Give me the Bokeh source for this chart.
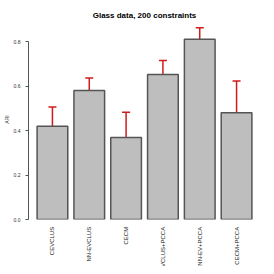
import math
from bokeh.plotting import figure
from bokeh.models import ColumnDataSource, Whisker, TeeHead, FixedTicker, Range1d
from bokeh.core.properties import value
from bokeh.embed import file_html
from bokeh.resources import INLINE

title = "Glass data, 200 constraints"
categories = ["CEVCLUS", "NN-EVCLUS", "CECM", "CEVCLUS+PCCA", "NN-EV+PCCA", "CECM+PCCA"]
ari_mean = [0.42, 0.58, 0.369, 0.652, 0.811, 0.48]
err_lower = [0.335, 0.525, 0.254, 0.587, 0.758, 0.338]
err_upper = [0.506, 0.637, 0.483, 0.715, 0.863, 0.623]
y_ticks = [0.0, 0.2, 0.4, 0.6, 0.8]

centers = [0.7 + 1.2 * i for i in range(len(categories))]
src = ColumnDataSource(dict(x=centers, top=ari_mean, lo=err_lower, hi=err_upper,
                            name=categories, ly=[-0.033] * len(categories)))

p = figure(width=266, height=266, output_backend="svg", toolbar_location=None,
           x_range=Range1d(-0.08, 7.48), y_range=Range1d(0, 0.9),
           x_axis_location=None,
           min_border_left=0, min_border_right=6, min_border_top=19, min_border_bottom=47)
p.title.text = title
p.title.align = "center"
p.title.text_font = "Liberation Sans"
p.title.text_font_size = "8px"
p.title.text_font_style = "bold"
p.title.text_color = "#000000"
p.title.standoff = 0
p.outline_line_color = None
p.grid.visible = False
p.background_fill_color = "white"
p.border_fill_color = "white"

p.vbar(x="x", top="top", width=1.0, bottom=0, source=src,
       fill_color="#bebebe", line_color="#555555", line_width=1.5)

wh = Whisker(base="x", lower="lo", upper="hi", source=src,
             line_color="#d11a1a", line_width=1.5,
             upper_head=TeeHead(size=8, line_color="#d11a1a", line_width=1.5),
             lower_head=TeeHead(size=8, line_color="#d11a1a", line_width=1.5))
p.add_layout(wh)

p.text(x="x", y="ly", text="name", source=src, angle=math.pi / 2,
       text_align="right", text_baseline="middle",
       text_font=value("Liberation Sans"), text_font_size="6px",
       text_color="#222222", level="overlay")

ya = p.yaxis[0]
ya.ticker = FixedTicker(ticks=y_ticks)
ya.bounds = (0, 0.8)
ya.minor_tick_line_color = None
ya.major_tick_in = 0
ya.major_tick_out = 3
ya.major_label_standoff = 5
ya.major_label_text_font = "Liberation Sans"
ya.major_label_text_font_size = "5px"
ya.major_label_text_color = "#333333"
ya.axis_line_color = "#555555"
ya.major_tick_line_color = "#555555"
ya.axis_label = "ARI"
ya.axis_label_text_font = "Liberation Sans"
ya.axis_label_text_font_size = "5px"
ya.axis_label_text_font_style = "normal"
ya.axis_label_text_color = "#333333"
ya.axis_label_standoff = 1
ya.major_label_overrides = {t: f"{t:.1f}" for t in y_ticks}

open("out.html", "w").write(file_html(p, INLINE))
